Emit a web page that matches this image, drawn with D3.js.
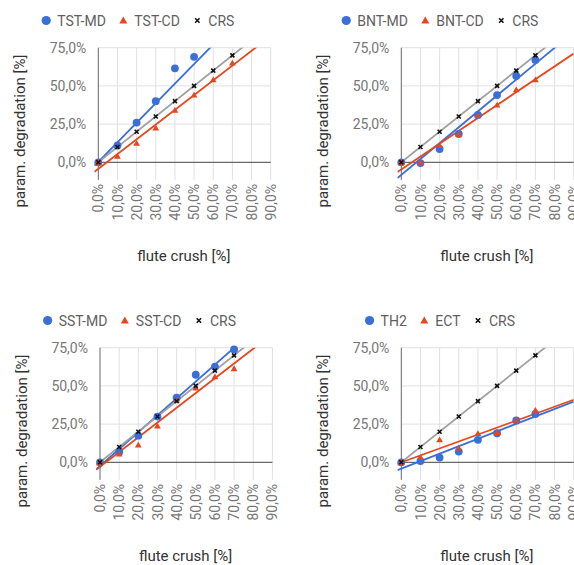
<!DOCTYPE html>
<html>
<head>
<meta charset="UTF-8">
<script src="https://cdn.jsdelivr.net/npm/d3@7"></script>
<style>
    body { margin: 0; background: #fff; }
    svg { display: block; font-family: Roboto, sans-serif; }
</style>
</head>
<body>
<div id="chart"></div>
<script>
    // ticks
    const xTicks = [0, 10, 20, 30, 40, 50, 60, 70, 80, 90];
    const yTicks = [0, 25, 50, 75];
    const crushLevels = [0, 10, 20, 30, 40, 50, 60, 70];

    // series values [%]
    const tstMD = [0, 11, 26, 40, 61.5, 69];
    const tstCD = [0, 4, 12.5, 22.5, 34, 44, 54, 65];
    const bntMD = [0, -0.5, 8.7, 18.5, 31, 44, 56.5, 67];
    const bntCD = [0, 0, 11, 18.3, 30.5, 37.5, 47.5, 54];
    const sstMD = [0, 6.8, 17.4, 29.9, 42.3, 57.3, 62.6, 73.9];
    const sstCD = [0, 5.4, 11.3, 23.8, 40.8, 48.6, 56, 61.3];
    const th2 = [0, 0.8, 3.1, 7, 14.7, 19, 27.4, 31.6];
    const ect = [0, 3.3, 14.8, 9.3, 18.8, 19.5, 27.5, 34];
    const crs = [0, 10, 20, 30, 40, 50, 60, 70];

    // TST-MD trendline as drawn (its upper points are off the chart): slope, intercept
    const tstMDTrend = [1.28, 0.3];

    const panelNames = [
        ["TST-MD", "TST-CD", "CRS"],
        ["BNT-MD", "BNT-CD", "CRS"],
        ["SST-MD", "SST-CD", "CRS"],
        ["TH2", "ECT", "CRS"]
    ];
    const panelValues = [
        [tstMD, tstCD, crs],
        [bntMD, bntCD, crs],
        [sstMD, sstCD, crs],
        [th2, ect, crs]
    ];

    const blue = "#3b6fd8", red = "#e8461e", black = "#111";
    const colors = [blue, red, black];
    const lineColors = [blue, red, "#a0a0a0"];

    // layout of each panel: position of (0%, 75%) and legend centre
    const layout = [
        {left: 98.3, top: 47.7, legend: 138, dy: 0},
        {left: 401.3, top: 47.7, legend: 440, dy: 0},
        {left: 100, top: 347.7, legend: 139.5, dy: 300},
        {left: 401.3, top: 347.7, legend: 440, dy: 300}
    ];
    const plotW = 172.4, plotH75 = 114.6;
    const yMin = -11.5, xMinLine = -2;

    const svg = d3.select("#chart").append("svg")
        .attr("width", 574)
        .attr("height", 565);

    const fmt = d => d.toFixed(1).replace(".", ",") + "%";

    function regression(xs, ys) {
        const n = ys.length;
        const mx = d3.mean(xs.slice(0, n)), my = d3.mean(ys);
        let sxy = 0, sxx = 0;
        for (let i = 0; i < n; i++) {
            sxy += (xs[i] - mx) * (ys[i] - my);
            sxx += (xs[i] - mx) * (xs[i] - mx);
        }
        const slope = sxy / sxx;
        return [slope, my - slope * mx];
    }

    layout.forEach((p, pi) => {
        const x = d3.scaleLinear().domain([0, 90]).range([p.left, p.left + plotW]);
        const y = d3.scaleLinear().domain([0, 75]).range([p.top + plotH75, p.top]);
        const g = svg.append("g");

        // grid
        g.selectAll(".vg").data(xTicks.slice(1)).join("line")
            .attr("x1", d => x(d)).attr("x2", d => x(d))
            .attr("y1", y(75)).attr("y2", y(yMin))
            .attr("stroke", "#e0e0e0");
        g.selectAll(".hg").data(yTicks.slice(1)).join("line")
            .attr("x1", x(0)).attr("x2", x(90))
            .attr("y1", d => y(d)).attr("y2", d => y(d))
            .attr("stroke", "#e0e0e0");
        g.append("line")
            .attr("x1", x(0)).attr("x2", x(0))
            .attr("y1", y(75)).attr("y2", y(yMin))
            .attr("stroke", "#666");
        g.append("line")
            .attr("x1", x(0)).attr("x2", x(90))
            .attr("y1", y(0)).attr("y2", y(0))
            .attr("stroke", "#444");

        // tick labels
        g.selectAll(".yl").data(yTicks).join("text")
            .attr("x", x(0) - 12).attr("y", d => y(d))
            .attr("dy", "0.36em")
            .attr("text-anchor", "end")
            .attr("fill", "#777")
            .attr("font-size", 14)
            .text(fmt);
        g.selectAll(".xl").data(xTicks).join("text")
            .attr("transform", d => `translate(${x(d)},${y(yMin) + 4}) rotate(-90)`)
            .attr("dy", "0.36em")
            .attr("text-anchor", "end")
            .attr("fill", "#777")
            .attr("font-size", 14)
            .text(fmt);

        // axis titles
        g.append("text")
            .attr("transform", `translate(${p.left - 78.5},${131 + p.dy}) rotate(-90)`)
            .attr("dy", "0.35em")
            .attr("text-anchor", "middle")
            .attr("fill", "#333")
            .attr("font-size", 15)
            .text("param. degradation [%]");
        g.append("text")
            .attr("x", p.left + 85.5).attr("y", 261 + p.dy)
            .attr("text-anchor", "middle")
            .attr("fill", "#333")
            .attr("font-size", 15)
            .text("flute crush [%]");

        // trendlines
        const clipId = "clip" + pi;
        svg.append("clipPath").attr("id", clipId).append("rect")
            .attr("x", x(xMinLine)).attr("y", y(75))
            .attr("width", x(90) - x(xMinLine))
            .attr("height", y(yMin) - y(75));
        const lines = g.append("g").attr("clip-path", `url(#${clipId})`);
        panelValues[pi].forEach((vals, si) => {
            const t = (pi === 0 && si === 0) ? tstMDTrend : regression(crushLevels, vals);
            lines.append("line")
                .attr("x1", x(xMinLine)).attr("y1", y(t[0] * xMinLine + t[1]))
                .attr("x2", x(90)).attr("y2", y(t[0] * 90 + t[1]))
                .attr("stroke", lineColors[si])
                .attr("stroke-width", 1.8);
        });

        // points
        panelValues[pi].forEach((vals, si) => {
            const pts = g.append("g").selectAll("path").data(vals).join("path")
                .attr("transform", (d, i) => `translate(${x(crushLevels[i])},${y(d)})`);
            if (si === 0) {
                pts.attr("d", d3.symbol(d3.symbolCircle, 48)).attr("fill", colors[si]);
            } else if (si === 1) {
                pts.attr("d", "M0,-3.3L3.4,2.5L-3.4,2.5Z").attr("fill", colors[si]);
            } else {
                pts.attr("d", "M-2,-2L2,2M2,-2L-2,2")
                    .attr("stroke", colors[si]).attr("stroke-width", 1.6);
            }
        });

        // legend
        const leg = g.append("g");
        let cx = 0;
        panelNames[pi].forEach((name, si) => {
            const item = leg.append("g").attr("transform", `translate(${cx},0)`);
            if (si === 0) {
                item.append("circle").attr("r", 4.6).attr("fill", colors[si]);
            } else if (si === 1) {
                item.append("path").attr("d", "M0,-4L4,3L-4,3Z").attr("fill", colors[si]);
            } else {
                item.append("path").attr("d", "M-2.2,-2.2L2.2,2.2M2.2,-2.2L-2.2,2.2")
                    .attr("stroke", colors[si]).attr("stroke-width", 1.6);
            }
            const txt = item.append("text")
                .attr("x", 11).attr("dy", "0.36em")
                .attr("fill", "#5f5f5f")
                .attr("font-size", 14)
                .text(name);
            cx += 11 + txt.node().getComputedTextLength() + 17.5;
        });
        const w = cx - 17.5 + 4.6;
        leg.attr("transform", `translate(${p.legend - w / 2 + 4.6},${20.5 + p.dy})`);
    });
</script>
</body>
</html>
